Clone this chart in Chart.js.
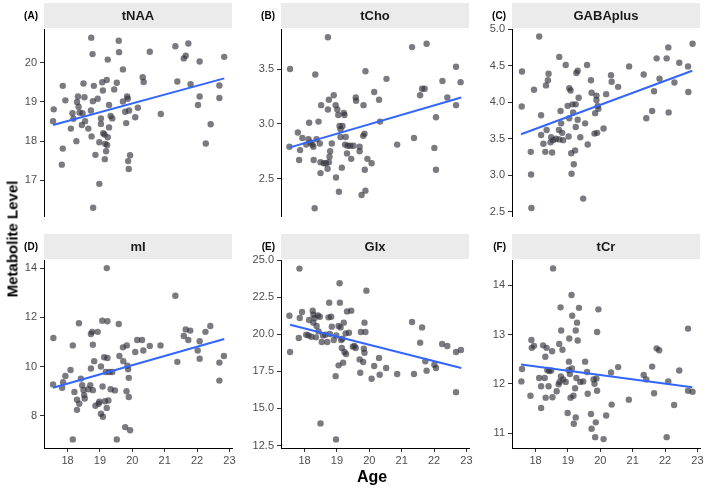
<!DOCTYPE html>
<html>
<head>
<meta charset="utf-8">
<script src="https://cdn.jsdelivr.net/npm/chart.js@4.4.1/dist/chart.umd.min.js"></script>
<style>
  body { margin: 0; background: #fff; }
  #wrap { position: relative; width: 709px; height: 488px; overflow: hidden; font-family: "Liberation Sans", Arial, sans-serif; }
  .panel { position: absolute; }
  #ylab { position: absolute; left: 12px; top: 239px; transform: translate(-50%, -50%) rotate(-90deg); font-weight: bold; font-size: 15px; white-space: nowrap; color: #000; }
  #xlab { position: absolute; left: 372px; top: 477px; transform: translate(-50%, -50%); font-weight: bold; font-size: 16px; color: #000; }
</style>
</head>
<body>
<div id="wrap">
  <div id="ylab">Metabolite Level</div>
  <div id="xlab">Age</div>
</div>
<script>
// values
const ageTicks = [18, 19, 20, 21, 22, 23];
const ageRange = [17.27, 23.08];
const fitAge = [17.55, 22.84];

const ageNAA = [17.57,17.55,17.85,17.93,17.85,17.82,18.10,18.15,18.18,18.27,18.29,18.32,18.34,18.37,18.44,18.49,18.52,18.54,18.46,18.64,18.72,18.74,18.73,18.77,18.81,18.78,18.86,18.79,18.93,18.98,18.98,19.03,19.03,19.07,19.09,19.10,19.14,19.16,19.19,19.15,19.21,19.24,19.24,19.22,19.28,19.28,19.33,19.38,19.44,19.52,19.58,19.59,19.71,19.71,19.78,19.81,19.84,19.86,19.90,19.93,19.87,19.89,20.09,20.17,20.32,20.35,20.54,20.88,21.33,21.39,21.59,21.65,21.73,21.80,22.03,22.08,22.08,22.27,22.42,22.69,22.69,22.84];
const tNAA = [18.81,18.51,19.41,19.04,17.81,17.40,18.32,18.71,18.57,18.00,19.00,19.14,18.88,18.73,18.41,19.47,19.12,18.51,18.71,18.32,18.78,18.12,20.64,20.22,19.41,19.02,17.65,16.30,19.08,17.97,16.91,18.44,18.58,19.50,19.29,18.20,18.17,17.93,17.74,17.54,19.56,20.08,18.10,17.90,18.35,18.92,18.64,18.58,19.32,19.49,20.56,20.27,19.83,19.01,18.75,18.46,19.14,19.08,18.78,17.64,17.49,17.29,18.61,18.85,19.63,19.51,20.28,18.69,20.42,19.52,20.11,20.18,20.49,19.45,18.92,20.03,19.14,17.94,18.43,19.42,19.10,20.15];
const fitNAA = [18.41, 19.60];
const ticksNAA = [17, 18, 19, 20];
const rangeNAA = [16.08, 20.86];

const ageCho = [17.55,17.53,17.79,17.86,17.83,17.93,18.05,18.12,18.14,18.18,18.24,18.27,18.28,18.31,18.33,18.37,18.43,18.47,18.49,18.49,18.51,18.59,18.66,18.72,18.72,18.75,18.71,18.77,18.79,18.75,18.84,18.90,18.96,18.97,19.01,19.04,19.06,19.08,19.11,19.11,19.15,19.17,19.21,19.23,19.25,19.27,19.31,19.33,19.41,19.44,19.51,19.58,19.59,19.70,19.70,19.76,19.82,19.81,19.85,19.86,19.88,19.88,19.94,20.07,20.15,20.30,20.33,20.53,20.86,21.32,21.38,21.57,21.63,21.71,21.77,22.01,22.06,22.06,22.26,22.41,22.68,22.68,22.82];
const tCho = [3.50,2.79,2.92,2.76,2.67,2.87,2.81,2.86,3.01,2.83,2.81,2.79,2.67,2.23,3.45,2.86,3.02,2.82,2.65,2.55,3.17,2.64,2.64,3.79,3.13,3.22,2.59,2.70,2.75,2.65,2.82,3.26,3.17,2.51,3.13,3.08,2.38,2.98,2.88,2.95,2.60,2.98,3.10,3.08,2.81,2.88,2.73,2.80,2.80,2.68,2.80,3.24,3.21,2.79,2.75,2.35,3.17,2.89,2.91,2.58,2.39,3.48,2.68,2.64,3.29,3.22,3.02,3.41,2.81,3.70,2.87,3.26,3.32,3.32,3.73,2.78,3.06,2.58,3.39,3.24,3.17,3.52,3.38];
const fitCho = [2.785, 3.24];
const ticksCho = [2.5, 3.0, 3.5];
const rangeCho = [2.155, 3.865];

const ageGABA = [17.58,17.57,17.85,17.86,17.87,17.95,18.11,18.17,18.17,18.24,18.30,18.32,18.34,18.38,18.40,18.46,18.48,18.51,18.54,18.63,18.72,18.73,18.73,18.77,18.79,18.82,18.85,18.93,18.99,19.02,19.04,19.04,19.08,19.10,19.11,19.14,19.16,19.18,19.22,19.24,19.24,19.26,19.30,19.30,19.33,19.38,19.47,19.53,19.59,19.61,19.71,19.73,19.82,19.84,19.88,19.88,19.90,19.92,19.94,20.10,20.18,20.33,20.35,20.55,20.89,21.34,21.42,21.60,21.66,21.74,21.83,22.05,22.10,22.11,22.29,22.44,22.71,22.72,22.85];
const gabaPlus = [4.42,3.94,3.32,3.01,2.55,4.17,4.90,3.82,3.55,3.43,3.32,4.23,3.62,4.30,4.39,3.45,3.52,3.31,3.48,3.50,3.62,4.62,3.49,3.88,3.71,3.58,3.48,4.51,3.95,3.53,3.78,4.19,4.16,3.30,3.02,3.97,3.86,3.15,3.34,3.66,3.97,4.40,4.43,3.76,4.06,3.52,2.68,3.71,4.51,3.42,4.30,4.13,3.57,3.85,4.09,4.03,3.58,3.95,3.91,3.64,4.11,4.37,4.28,4.21,4.49,4.38,3.78,3.88,4.15,4.60,4.32,4.60,4.75,3.86,4.27,4.54,4.49,4.14,4.80];
const fitGABA = [3.56, 4.43];
const ticksGABA = [2.5, 3.0, 3.5, 4.0, 4.5, 5.0];
const rangeGABA = [2.436, 5.002];

const ageMI = [17.56,17.55,17.83,17.86,17.93,18.09,18.16,18.16,18.21,18.29,18.29,18.35,18.36,18.41,18.45,18.49,18.51,18.53,18.64,18.70,18.72,18.72,18.76,18.78,18.78,18.82,18.86,18.93,18.96,18.98,19.03,19.03,19.07,19.08,19.09,19.13,19.15,19.18,19.21,19.23,19.23,19.21,19.26,19.29,19.33,19.38,19.46,19.52,19.58,19.60,19.71,19.72,19.78,19.82,19.83,19.85,19.87,19.89,19.89,19.93,20.09,20.15,20.30,20.34,20.54,20.87,21.33,21.39,21.59,21.65,21.73,21.79,22.02,22.08,22.08,22.26,22.41,22.69,22.69,22.83];
const mI = [11.16,9.27,9.14,9.36,9.62,9.86,10.86,7.04,8.97,8.65,8.24,11.76,8.49,9.51,9.24,9.05,8.84,8.70,9.08,9.24,9.92,11.32,11.41,10.89,9.04,10.22,8.41,11.41,8.49,8.57,10.00,8.08,11.86,9.19,7.96,10.38,8.59,9.78,14.00,10.35,11.84,8.32,8.62,9.78,9.08,9.78,9.03,7.04,11.73,10.43,10.78,10.22,7.54,9.00,10.86,10.03,9.89,9.54,8.76,7.41,10.59,11.08,11.08,10.65,10.84,10.86,12.88,10.19,11.24,11.51,11.08,11.46,10.65,11.03,10.32,11.41,11.65,9.43,10.16,10.43];
const fitMI = [9.14, 11.12];
const ticksMI = [8, 10, 12, 14];
const rangeMI = [6.69, 14.33];

const ageGlx = [17.53,17.55,17.84,17.82,17.85,17.92,18.05,18.12,18.14,18.21,18.25,18.27,18.27,18.31,18.35,18.37,18.41,18.43,18.47,18.49,18.53,18.57,18.64,18.70,18.74,18.76,18.78,18.82,18.84,18.90,18.96,18.97,18.98,19.05,19.05,19.08,19.09,19.11,19.13,19.15,19.17,19.19,19.21,19.23,19.27,19.28,19.31,19.37,19.44,19.49,19.54,19.58,19.70,19.72,19.74,19.81,19.83,19.85,19.85,19.88,19.91,20.07,20.15,20.30,20.32,20.52,20.86,21.32,21.38,21.57,21.63,21.73,21.77,22.01,22.06,22.25,22.41,22.68,22.68,22.83];
const glx = [21.26,18.81,24.44,19.75,21.10,21.51,19.98,19.93,20.97,19.84,21.60,21.33,20.79,21.10,19.80,20.56,21.28,20.20,21.19,13.99,19.48,19.93,19.98,19.48,21.15,22.14,20.02,21.19,20.52,19.62,17.18,12.91,19.93,20.56,17.91,23.45,22.14,20.47,19.62,19.08,19.71,18.09,20.79,18.81,20.07,18.67,21.55,20.11,21.60,19.17,19.21,19.08,18.31,17.41,20.16,18.13,19.03,18.76,20.79,20.16,22.95,17.00,17.86,18.40,17.27,17.73,17.32,20.83,17.32,19.44,20.47,18.18,17.55,17.95,17.73,19.35,19.21,16.10,18.81,18.94];
const fitGlx = [20.65, 17.73];
const ticksGlx = [12.5, 15.0, 17.5, 20.0, 22.5, 25.0];
const rangeGlx = [12.33, 25.02];

const ageCr = [17.58,17.56,17.84,17.87,17.88,17.95,18.11,18.17,18.17,18.23,18.28,18.30,18.31,18.34,18.36,18.40,18.42,18.48,18.51,18.52,18.54,18.65,18.71,18.73,18.74,18.77,18.78,18.79,18.83,18.85,18.93,18.99,19.02,19.03,19.04,19.06,19.08,19.11,19.12,19.13,19.17,19.18,19.22,19.24,19.24,19.26,19.28,19.30,19.34,19.38,19.47,19.53,19.59,19.61,19.71,19.73,19.79,19.82,19.84,19.86,19.88,19.90,19.90,19.94,20.10,20.18,20.33,20.35,20.55,20.88,21.34,21.42,21.60,21.66,21.74,21.82,22.05,22.10,22.28,22.44,22.71,22.71,22.85];
const tCr = [12.30,12.05,11.76,12.89,12.73,12.77,12.12,11.51,11.95,12.78,12.12,12.55,11.72,12.73,12.28,11.95,12.26,12.27,12.66,11.73,14.34,11.85,11.99,12.81,12.04,13.55,12.15,13.08,12.69,12.09,12.04,11.41,12.28,12.45,12.92,12.20,11.72,13.80,12.31,13.38,11.76,11.19,11.91,11.32,13.08,12.12,13.24,12.88,13.54,12.04,12.05,12.45,12.24,11.80,11.39,11.09,12.09,12.00,10.92,11.22,12.11,13.05,11.86,13.51,10.88,11.36,12.23,11.58,12.34,11.68,12.18,12.09,12.35,11.81,12.72,12.68,10.92,12.05,11.57,12.27,13.12,11.86,11.84];
const fitCr = [12.39, 11.93];
const ticksCr = [11, 12, 13, 14];
const rangeCr = [10.70, 14.51];

const FONT = '"Liberation Sans", Arial, sans-serif';
const colLeft = [44, 281, 512];
const plotW = 188;
const yAxisW = 40;

const panels = [
  { tag: '(A)', title: 'tNAA', ages: ageNAA, vals: tNAA, fit: fitNAA, ticks: ticksNAA, range: rangeNAA, dec: 0, row: 0, col: 0 },
  { tag: '(B)', title: 'tCho', ages: ageCho, vals: tCho, fit: fitCho, ticks: ticksCho, range: rangeCho, dec: 1, row: 0, col: 1 },
  { tag: '(C)', title: 'GABAplus', ages: ageGABA, vals: gabaPlus, fit: fitGABA, ticks: ticksGABA, range: rangeGABA, dec: 1, row: 0, col: 2 },
  { tag: '(D)', title: 'mI', ages: ageMI, vals: mI, fit: fitMI, ticks: ticksMI, range: rangeMI, dec: 0, row: 1, col: 0 },
  { tag: '(E)', title: 'Glx', ages: ageGlx, vals: glx, fit: fitGlx, ticks: ticksGlx, range: rangeGlx, dec: 1, row: 1, col: 1 },
  { tag: '(F)', title: 'tCr', ages: ageCr, vals: tCr, fit: fitCr, ticks: ticksCr, range: rangeCr, dec: 0, row: 1, col: 2 }
];

// grey facet strip + panel tag above each plot area
const stripPlugin = {
  id: 'strip',
  beforeDraw(chart, args, opts) {
    const { ctx, chartArea } = chart;
    ctx.save();
    ctx.fillStyle = '#ebebeb';
    ctx.fillRect(chartArea.left, 4, chartArea.right - chartArea.left, chartArea.top - 5);
    ctx.fillStyle = '#1a1a1a';
    ctx.font = 'bold 13px ' + FONT;
    ctx.textAlign = 'center';
    ctx.textBaseline = 'middle';
    ctx.fillText(opts.title, (chartArea.left + chartArea.right) / 2, 17);
    ctx.fillStyle = '#000';
    ctx.font = 'bold 10px ' + FONT;
    ctx.textAlign = 'right';
    ctx.fillText(opts.tag, chartArea.left - 6, 17);
    ctx.restore();
  }
};

const wrap = document.getElementById('wrap');

panels.forEach(p => {
  const bottom = p.row === 1;
  const w = yAxisW + plotW + 12;
  const h = bottom ? 242 : 227;
  const div = document.createElement('div');
  div.className = 'panel';
  div.style.left = (colLeft[p.col] - yAxisW) + 'px';
  div.style.top = (bottom ? 230 : -1) + 'px';
  const canvas = document.createElement('canvas');
  canvas.width = w;
  canvas.height = h;
  canvas.style.width = w + 'px';
  canvas.style.height = h + 'px';
  div.appendChild(canvas);
  wrap.insertBefore(div, wrap.firstChild);

  new Chart(canvas.getContext('2d'), {
    type: 'scatter',
    data: {
      datasets: [{
        data: fitAge.map((a, i) => ({ x: a, y: p.fit[i] })),
        showLine: true,
        borderColor: '#3366FF',
        borderWidth: 2,
        pointRadius: 0
      }, {
        data: p.ages.map((a, i) => ({ x: a, y: p.vals[i] })),
        backgroundColor: 'rgba(50,50,60,0.65)',
        borderWidth: 0,
        pointRadius: 3.2
      }]
    },
    options: {
      responsive: false,
      devicePixelRatio: 1,
      animation: false,
      layout: { padding: { top: 30, right: 12, bottom: bottom ? 0 : 4, left: 0 } },
      plugins: {
        legend: { display: false },
        tooltip: { enabled: false },
        strip: { title: p.title, tag: p.tag }
      },
      scales: {
        x: {
          type: 'linear',
          min: ageRange[0],
          max: ageRange[1],
          display: bottom,
          afterBuildTicks: s => { s.ticks = ageTicks.map(v => ({ value: v })); },
          afterFit: s => { s.height = bottom ? 24 : 0; },
          grid: { drawOnChartArea: false, tickLength: 4, tickColor: '#333' },
          border: { color: '#000', width: 1 },
          ticks: { color: '#4d4d4d', font: { size: 11, family: FONT }, padding: 2, maxRotation: 0, callback: v => String(v) }
        },
        y: {
          type: 'linear',
          min: p.range[0],
          max: p.range[1],
          afterBuildTicks: s => { s.ticks = p.ticks.map(v => ({ value: v })); },
          afterFit: s => { s.width = yAxisW; },
          grid: { drawOnChartArea: false, tickLength: 4, tickColor: '#333' },
          border: { color: '#000', width: 1 },
          ticks: { color: '#4d4d4d', font: { size: 11, family: FONT }, padding: 3, callback: v => v.toFixed(p.dec) }
        }
      }
    },
    plugins: [stripPlugin]
  });
});
</script>
</body>
</html>
